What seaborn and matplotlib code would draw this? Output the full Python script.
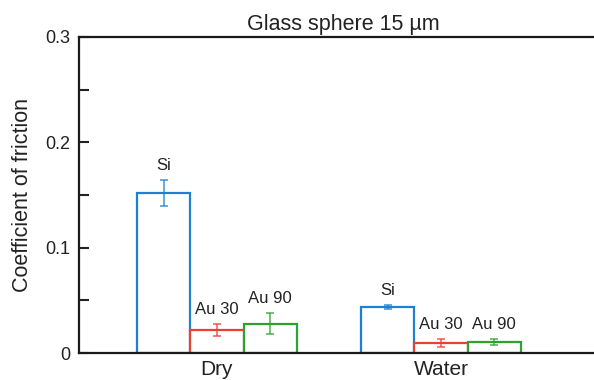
import matplotlib
matplotlib.use("Agg")
import matplotlib.pyplot as plt
import seaborn as sns
import pandas as pd
from matplotlib.ticker import MultipleLocator

# Friction data for a 15 µm glass sphere on three substrates
conditions = ["Dry", "Water"]
substrates = ["Si", "Au 30", "Au 90"]
dry_mean = [0.152, 0.022, 0.028]
dry_err = [0.012, 0.006, 0.010]
water_mean = [0.044, 0.0095, 0.0105]
water_err = [0.002, 0.0035, 0.0025]
colors = ["#1f7fd0", "#ea4030", "#2ea22e"]

rows = []
for cond, means, errs in zip(conditions, [dry_mean, water_mean], [dry_err, water_err]):
    for sub, m, e in zip(substrates, means, errs):
        rows.append({"condition": cond, "substrate": sub, "mu": m, "err": e})
df = pd.DataFrame(rows)

sns.set_style("white")
plt.rcParams["font.family"] = ["Liberation Sans", "DejaVu Sans"]

fig = plt.figure(figsize=(5.94, 3.8), dpi=100)
ax = fig.add_axes([79 / 594, 27 / 380, 528 / 594, 316 / 380])

sns.barplot(data=df, x="condition", y="mu", hue="substrate",
            order=conditions, hue_order=substrates,
            palette=colors, fill=False, linewidth=1.6,
            width=0.71, gap=0, errorbar=None, legend=False, ax=ax)

# Outline colours per substrate, error bars and labels at each bar centre
for sub, col, container in zip(substrates, colors, ax.containers):
    sub_df = df[df["substrate"] == sub].set_index("condition").loc[conditions]
    for patch, (_, r) in zip(container.patches, sub_df.iterrows()):
        patch.set_edgecolor(col)
        patch.set_facecolor("white")
        cx = patch.get_x() + patch.get_width() / 2
        ax.errorbar(cx, r["mu"], yerr=r["err"], color=col, lw=1.1,
                    capsize=2.6, capthick=1.1, alpha=0.85, zorder=5)
        ax.annotate(sub, (cx, r["mu"] + r["err"]), xytext=(0, 5),
                    textcoords="offset points", ha="center", va="bottom",
                    fontsize=12, color="#222222")

ax.set_xlim(-0.616, 1.741)
ax.set_ylim(0, 0.3)
ax.yaxis.set_major_locator(MultipleLocator(0.1))
ax.yaxis.set_minor_locator(MultipleLocator(0.05))
ax.set_yticks([0, 0.1, 0.2, 0.3])
ax.set_yticklabels(["0", "0.1", "0.2", "0.3"])
ax.tick_params(axis="y", which="both", direction="in", left=True,
               length=7, width=1.5, labelsize=13, pad=6, colors="#222222")
ax.tick_params(axis="x", bottom=False, labelsize=15, pad=1.5, colors="#222222")
ax.set_xlabel("")
ax.set_ylabel("Coefficient of friction", fontsize=15.5, labelpad=9, color="#222222")
ax.set_title("Glass sphere 15 µm", fontsize=15.5, pad=5, color="#222222")

for side in ["left", "top", "bottom"]:
    ax.spines[side].set_visible(True)
    ax.spines[side].set_linewidth(1.6)
    ax.spines[side].set_color("#1a1a1a")
ax.spines["right"].set_visible(False)

fig.savefig("out.png", dpi=100)
